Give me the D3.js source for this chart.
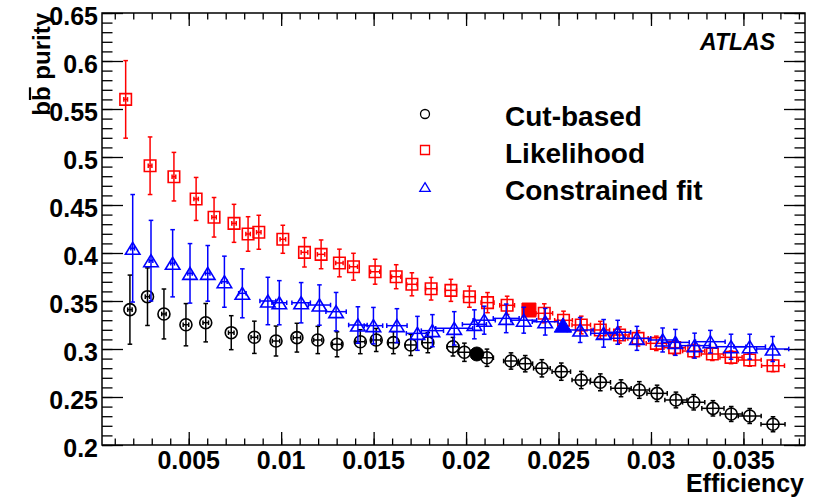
<!DOCTYPE html>
<html><head><meta charset="utf-8">
<script src="https://cdn.jsdelivr.net/npm/d3@7"></script>
<style>
body{margin:0;background:#fff}
svg{display:block}
text{font-family:"Liberation Sans",Arial,Helvetica,sans-serif;font-weight:bold;fill:#000}
</style>
</head><body>
<svg id="chart" width="819" height="502"></svg>
<script>
// ---------------- DATA ----------------
const seriesNames = ["Cut-based", "Likelihood", "Constrained fit"];

const cutEff = [0.00182,0.00277,0.00366,0.00485,0.00592,0.0073,0.00855,0.00972,0.01085,0.01198,0.01302,0.01428,0.01514,0.01607,0.01701,0.01793,0.01929,0.01991,0.02113,0.02243,0.0232,0.0241,0.02515,0.02623,0.02726,0.02838,0.02937,0.03033,0.03135,0.03231,0.03335,0.03434,0.03534,0.0366];
const cutPur = [0.341,0.3545,0.3365,0.3253,0.3274,0.317,0.3122,0.3083,0.3118,0.3094,0.3049,0.3076,0.3094,0.3066,0.3042,0.3066,0.3024,0.2966,0.2909,0.2875,0.2847,0.2799,0.2764,0.2677,0.2653,0.2591,0.2573,0.2538,0.2469,0.2445,0.2382,0.2323,0.2302,0.2216];
const cutPurErr = [0.036,0.030,0.026,0.022,0.020,0.0177,0.0168,0.0156,0.015,0.0142,0.013,0.0125,0.012,0.0115,0.011,0.0105,0.0097,0.0095,0.009,0.0085,0.0085,0.009,0.009,0.009,0.0088,0.0088,0.0087,0.0085,0.0082,0.008,0.008,0.0078,0.0078,0.0078];
const cutEffErr = [0.00012,0.00012,0.00012,0.00015,0.00015,0.00015,0.00018,0.0002,0.0002,0.00022,0.00025,0.00025,0.00025,0.00028,0.0003,0.0003,0.00032,0.00035,0.00035,0.0004,0.0004,0.00045,0.0005,0.0005,0.00055,0.00055,0.00055,0.00055,0.0006,0.0006,0.0006,0.0006,0.00062,0.00065];
const cutChosen = [0.02058, 0.2948];

const likEff = [0.00159,0.00291,0.0042,0.0054,0.00637,0.00745,0.00821,0.00879,0.01009,0.01126,0.01216,0.01315,0.01391,0.01508,0.01622,0.01707,0.01811,0.01918,0.02018,0.02116,0.02222,0.02423,0.02527,0.02623,0.02726,0.0283,0.0293,0.03029,0.03128,0.03231,0.03332,0.03433,0.03534,0.0366];
const likPur = [0.560,0.4909,0.4795,0.4563,0.4372,0.4309,0.4198,0.4216,0.4143,0.4007,0.3986,0.3896,0.3857,0.3805,0.3753,0.3674,0.3628,0.3611,0.3545,0.3483,0.3455,0.3372,0.3299,0.325,0.3198,0.3146,0.3111,0.3059,0.3014,0.2979,0.2948,0.2913,0.2885,0.2826];
const likPurErr = [0.0404,0.030,0.0253,0.0224,0.0206,0.0198,0.018,0.0177,0.0146,0.0153,0.015,0.0144,0.014,0.013,0.0125,0.012,0.0118,0.0115,0.011,0.0105,0.0095,0.0099,0.0095,0.0092,0.009,0.0085,0.008,0.0075,0.0072,0.007,0.0068,0.0066,0.0065,0.0062];
const likEffErr = [0.0001,0.0001,0.0001,0.00012,0.00012,0.00012,0.00012,0.00012,0.00015,0.00018,0.0002,0.0002,0.00022,0.00025,0.00025,0.00028,0.0003,0.0003,0.00032,0.00035,0.0004,0.00045,0.00048,0.0005,0.0005,0.00052,0.00055,0.00055,0.00058,0.0006,0.0006,0.0006,0.00062,0.00062];
const likChosen = [0.0234, 0.3406];

const fitEff = [0.00197,0.00296,0.00413,0.00507,0.00603,0.00693,0.0079,0.00928,0.0099,0.01108,0.01207,0.01297,0.01415,0.01499,0.01626,0.01737,0.01818,0.01936,0.02045,0.02098,0.02217,0.02312,0.02428,0.02617,0.02744,0.0282,0.02924,0.03063,0.03132,0.03236,0.03321,0.03433,0.03534,0.03658];
const fitPur = [0.4049,0.392,0.3893,0.3788,0.3788,0.3701,0.358,0.35,0.3482,0.3482,0.3458,0.3389,0.325,0.3243,0.3243,0.3163,0.3191,0.3215,0.3257,0.33,0.3319,0.33,0.3284,0.3198,0.3163,0.3174,0.3111,0.3094,0.3069,0.3035,0.3076,0.3024,0.3024,0.300];
const fitPurErr = [0.056,0.042,0.035,0.031,0.029,0.0266,0.0255,0.0247,0.023,0.021,0.021,0.020,0.019,0.019,0.0177,0.0177,0.0167,0.0174,0.0151,0.0146,0.0149,0.0135,0.0139,0.013,0.0144,0.0125,0.0125,0.0125,0.0135,0.013,0.0118,0.013,0.013,0.013];
const fitEffErr = [0.0001,0.0001,0.0001,0.00012,0.00012,0.00015,0.0002,0.00043,0.0004,0.0005,0.0006,0.00055,0.0005,0.0005,0.00055,0.0006,0.0006,0.001,0.00065,0.0006,0.0007,0.0007,0.0007,0.0007,0.0007,0.0007,0.00075,0.00075,0.00075,0.0008,0.0008,0.0008,0.00085,0.00087];
const fitChosen = [0.02524, 0.325];

const xTickValues = [0.005,0.01,0.015,0.02,0.025,0.03,0.035];
const xTickLabels = ["0.005","0.01","0.015","0.02","0.025","0.03","0.035"];
const yTickValues = [0.2,0.25,0.3,0.35,0.4,0.45,0.5,0.55,0.6,0.65];
const yTickLabels = ["0.2","0.25","0.3","0.35","0.4","0.45","0.5","0.55","0.6","0.65"];

// ---------------- LAYOUT ----------------
const L = 102, R = 805, T = 13, B = 445;
const svg = d3.select("#chart");
const x = d3.scaleLinear().domain([0.00031, 0.03833]).range([L, R]);
const y = d3.scaleLinear().domain([0.2, 0.65]).range([B, T]);

const xMinor = d3.range(1, 39).map(i => i / 1000).filter(v => v >= x.domain()[0] && v <= x.domain()[1]);
const yMinor = d3.range(20, 66).map(i => i / 100);

function axisG(axis, tx, ty) {
  const g = svg.append("g").attr("transform", `translate(${tx},${ty})`).call(axis);
  g.select(".domain").remove();
  g.selectAll("line").attr("stroke", "#000").attr("stroke-width", 1.3);
  g.selectAll("text").remove();
  return g;
}
axisG(d3.axisBottom(x).tickValues(xTickValues).tickSize(-13), 0, B);
axisG(d3.axisBottom(x).tickValues(xMinor).tickSize(-6.5), 0, B);
axisG(d3.axisTop(x).tickValues(xTickValues).tickSize(-13), 0, T);
axisG(d3.axisTop(x).tickValues(xMinor).tickSize(-6.5), 0, T);
axisG(d3.axisLeft(y).tickValues(yTickValues).tickSize(-21), L, 0);
axisG(d3.axisLeft(y).tickValues(yMinor).tickSize(-10.5), L, 0);
axisG(d3.axisRight(y).tickValues(yTickValues).tickSize(-21), R, 0);
axisG(d3.axisRight(y).tickValues(yMinor).tickSize(-10.5), R, 0);

svg.append("rect").attr("x", L).attr("y", T).attr("width", R - L).attr("height", B - T)
  .attr("fill", "none").attr("stroke", "#000").attr("stroke-width", 1.5);

// tick labels
svg.append("g").selectAll("text").data(xTickValues).join("text")
  .attr("x", d => x(d)).attr("y", 469).attr("text-anchor", "middle")
  .style("font-size", "25px").text((d, i) => xTickLabels[i]);
svg.append("g").selectAll("text").data(yTickValues).join("text")
  .attr("x", 98).attr("y", d => y(d) + 11.5).attr("text-anchor", "end")
  .style("font-size", "25px").text((d, i) => yTickLabels[i]);

// axis titles
svg.append("text").attr("x", 804).attr("y", 492).attr("text-anchor", "end")
  .style("font-size", "25px").text("Efficiency");
const ytG = svg.append("g").attr("transform", `translate(50,${T}) rotate(-90)`);
const yt = ytG.append("text").attr("text-anchor", "end").style("font-size", "24px").text("bb purity");
// overline (anti-b bar) over the second b
try {
  const ext = yt.node().getExtentOfChar(1);
  ytG.append("line").attr("x1", ext.x + 1).attr("x2", ext.x + ext.width - 1)
    .attr("y1", -20).attr("y2", -20).attr("stroke", "#000").attr("stroke-width", 2.2);
} catch (e) {}

// ATLAS
svg.append("text").attr("x", 775).attr("y", 50).attr("text-anchor", "end")
  .style("font-size", "23px").style("font-style", "italic").text("ATLAS");

// ---------------- MARKERS ----------------
function markerPath(type, s) {
  const h = s / 2;
  if (type === "square") return `M${-h},${-h}H${h}V${h}H${-h}Z`;
  if (type === "triangle") { const w = s * 0.58, hh = s * 0.48; return `M0,${-hh}L${w},${hh}L${-w},${hh}Z`; }
  const p = d3.path(); p.arc(0, 0, h, 0, 2 * Math.PI); return p.toString();
}

function drawSeries(eff, pur, effErr, purErr, chosen, color, type, size, bigSize) {
  const data = eff.map((e, i) => ({ e, p: pur[i], ex: effErr[i], ey: purErr[i] }));
  const g = svg.append("g").attr("stroke", color).attr("stroke-width", 1.5).attr("fill", "none");
  const cap = 2.3;
  data.forEach(d => {
    const cx = x(d.e), cy = y(d.p);
    const y1 = y(d.p + d.ey), y2 = y(d.p - d.ey);
    const x1 = x(d.e - d.ex), x2 = x(d.e + d.ex);
    g.append("line").attr("x1", cx).attr("x2", cx).attr("y1", y1).attr("y2", y2);
    g.append("line").attr("x1", cx - cap).attr("x2", cx + cap).attr("y1", y1).attr("y2", y1);
    g.append("line").attr("x1", cx - cap).attr("x2", cx + cap).attr("y1", y2).attr("y2", y2);
    g.append("line").attr("x1", x1).attr("x2", x2).attr("y1", cy).attr("y2", cy);
    g.append("line").attr("x1", x1).attr("x2", x1).attr("y1", cy - cap).attr("y2", cy + cap);
    g.append("line").attr("x1", x2).attr("x2", x2).attr("y1", cy - cap).attr("y2", cy + cap);
  });
  g.selectAll("path.m").data(data).join("path").attr("class", "m")
    .attr("transform", d => `translate(${x(d.e)},${y(d.p)})`)
    .attr("d", markerPath(type, size)).attr("stroke-width", 1.6);
  svg.append("path").attr("transform", `translate(${x(chosen[0])},${y(chosen[1])})`)
    .attr("d", markerPath(type, bigSize)).attr("fill", color).attr("stroke", color);
}

drawSeries(cutEff, cutPur, cutEffErr, cutPurErr, cutChosen, "#000", "circle", 12, 14);
drawSeries(likEff, likPur, likEffErr, likPurErr, likChosen, "#ff0000", "square", 11.5, 14);
drawSeries(fitEff, fitPur, fitEffErr, fitPurErr, fitChosen, "#0000ff", "triangle", 12.5, 15);

// ---------------- LEGEND ----------------
const legTypes = ["circle", "square", "triangle"];
const legColors = ["#000", "#ff0000", "#0000ff"];
const legY = [114, 150, 187];
const legBase = [126, 163, 200];
seriesNames.forEach((name, i) => {
  svg.append("path").attr("transform", `translate(425,${legY[i]})`)
    .attr("d", markerPath(legTypes[i], 9)).attr("fill", "none")
    .attr("stroke", legColors[i]).attr("stroke-width", 1.3);
  svg.append("text").attr("x", 505).attr("y", legBase[i]).style("font-size", "28px").text(name);
});
</script>
</body></html>
